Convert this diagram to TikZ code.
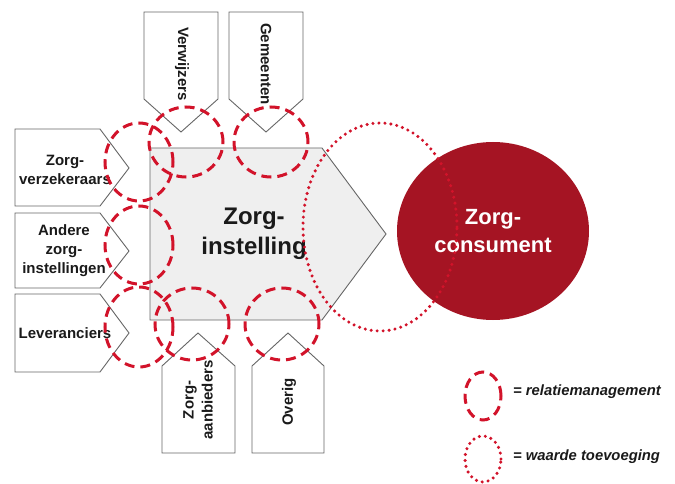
\documentclass[tikz,border=0pt]{standalone}
\usepackage{fontspec}
\setmainfont{Liberation Sans}
\definecolor{relred}{HTML}{D2132A}
\definecolor{consred}{HTML}{A51423}
\definecolor{boxgray}{HTML}{EFEFEF}
\definecolor{edgegray}{HTML}{666666}
\definecolor{txt}{HTML}{1A1A1A}
\begin{document}
\begin{tikzpicture}[x=1pt,y=-1pt,
  box/.style={draw=edgegray,line width=0.9pt,fill=white,line join=miter},
  lbl/.style={font=\fontsize{15}{19}\selectfont\bfseries,align=center,text=txt,inner sep=0pt},
  relm/.style={draw=relred,line width=3pt,dash pattern=on 10pt off 6pt},
  wtv/.style={draw=relred,line width=3.4pt,line cap=round,dash pattern=on 0pt off 6pt},
  legend/.style={font=\fontsize{14.8}{17}\selectfont\bfseries\itshape,text=txt,anchor=west,inner sep=0pt},
]
\useasboundingbox (0,0) rectangle (675,484);

% partner boxes on the left, pointing right
\draw[box] (15,129) -- (100,129) -- (129,168) -- (100,206) -- (15,206) -- cycle;
\draw[box] (15,213) -- (100,213) -- (129,251) -- (100,288) -- (15,288) -- cycle;
\draw[box] (15,294) -- (100,294) -- (129,333) -- (100,372) -- (15,372) -- cycle;
\node[lbl] (verz) at (65,170) {Zorg-\\verzekeraars};
\node[lbl] (andere) at (64,251) {Andere\\zorg-\\instellingen};
\node[lbl] (lev) at (65,333) {Leveranciers};

% partner boxes on top, pointing down
\draw[box] (144,12) -- (218,12) -- (218,99) -- (181,132) -- (144,99) -- cycle;
\draw[box] (229,12) -- (303,12) -- (303,99) -- (266,132) -- (229,99) -- cycle;
\node[lbl,rotate=-90] (verw) at (182,64) {Verwijzers};
\node[lbl,rotate=-90] (gem) at (266,64) {Gemeenten};

% partner boxes below, pointing up
\draw[box] (162,453) -- (162,366) -- (198,333) -- (235,366) -- (235,453) -- cycle;
\draw[box] (252,453) -- (252,366) -- (288,333) -- (324,366) -- (324,453) -- cycle;
\node[lbl,rotate=90] (aanb) at (198,400) {Zorg-\\aanbieders};
\node[lbl,rotate=90] (overig) at (289,402) {Overig};

% the care institution
\draw[draw=edgegray,line width=0.9pt,fill=boxgray] (150,148) -- (322,148) -- (386,234) -- (322,320) -- (150,320) -- cycle;
\node[font=\fontsize{24}{30}\selectfont\bfseries,align=center,text=txt,inner sep=0pt] (inst) at (254,234) {Zorg-\\instelling};

% the care consumer
\fill[consred] (493,231) ellipse [x radius=96pt, y radius=89pt];
\node[font=\fontsize{22}{28}\selectfont\bfseries,align=center,text=white,inner sep=0pt] (cons) at (493,231) {Zorg-\\consument};

% relationship management rings
\draw[relm] (186,142) ellipse [x radius=37pt, y radius=35pt];
\draw[relm] (271,142) ellipse [x radius=37pt, y radius=35pt];
\draw[relm] (139,162) ellipse [x radius=34pt, y radius=39pt];
\draw[relm] (139,245) ellipse [x radius=34pt, y radius=39pt];
\draw[relm] (139,327) ellipse [x radius=34pt, y radius=40pt];
\draw[relm] (192,324) ellipse [x radius=37pt, y radius=36pt];
\draw[relm] (282,324) ellipse [x radius=37pt, y radius=36pt];

% added value ring
\draw[wtv] (380,227) ellipse [x radius=77pt, y radius=104pt];

% legend
\draw[relm] (483,396) ellipse [x radius=18pt, y radius=24pt];
\node[legend] (lgrel) at (513,392) {= relatiemanagement};
\draw[wtv] (483,459) ellipse [x radius=18pt, y radius=23pt];
\node[legend] (lgwtv) at (513,457) {= waarde toevoeging};
\end{tikzpicture}
\end{document}
